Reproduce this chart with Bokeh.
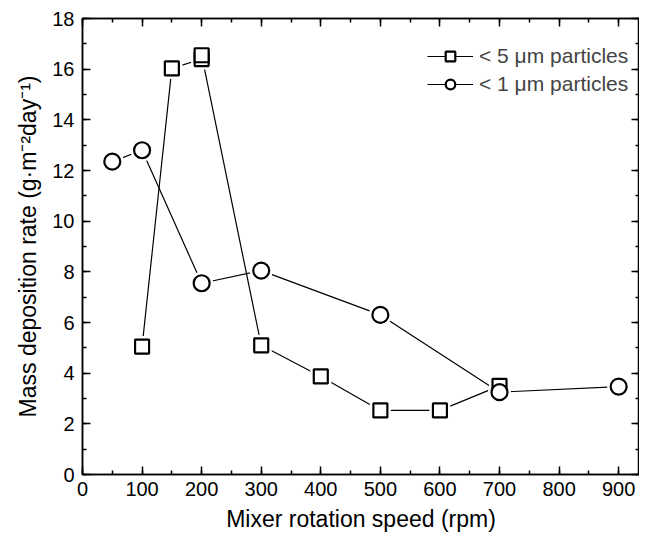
from bokeh.plotting import figure
from bokeh.models import Range1d, LinearAxis, Legend, LegendItem, FixedTicker
from bokeh.embed import file_html
from bokeh.resources import INLINE

x5 = [100, 150, 200, 200, 300, 400, 500, 600, 700]
y5 = [5.05, 16.03, 16.4, 16.55, 5.1, 3.87, 2.53, 2.53, 3.5]
x1 = [50, 100, 200, 300, 500, 700, 900]
y1 = [12.35, 12.8, 7.55, 8.05, 6.3, 3.25, 3.47]
label5 = "< 5 \u03bcm particles"
label1 = "< 1 \u03bcm particles"
xticks = list(range(0, 1000, 100))
xminor = list(range(0, 1000, 50))
yticks = list(range(0, 19, 2))
yminor = list(range(0, 19, 1))

FONT = "Liberation Sans"

p = figure(width=639, height=534, output_backend="svg", toolbar_location=None,
           x_range=Range1d(0, 935), y_range=Range1d(0, 18),
           min_border_left=82, min_border_top=18, min_border_right=0, min_border_bottom=60)
p.xgrid.visible = False
p.ygrid.visible = False
p.outline_line_color = "black"
p.outline_line_width = 1.5

l5 = p.line(x5, y5, line_color="black", line_width=1.2)
l1 = p.line(x1, y1, line_color="black", line_width=1.2)
# white halos to create gaps between lines and markers
p.scatter(x5, y5, marker="square", size=14, fill_color="white", line_color="white", line_width=7)
p.scatter(x1, y1, marker="circle", size=16, fill_color="white", line_color="white", line_width=7)
m5 = p.scatter(x5, y5, marker="square", size=14, fill_color="white", line_color="black", line_width=2.2)
m1 = p.scatter(x1, y1, marker="circle", size=16, fill_color="white", line_color="black", line_width=2.2)

xt = FixedTicker(ticks=xticks, minor_ticks=xminor)
yt = FixedTicker(ticks=yticks, minor_ticks=yminor)

p.xaxis[0].ticker = xt
p.yaxis[0].ticker = yt

def style(ax, labels=True):
    ax.axis_line_color = "black"
    ax.axis_line_width = 1.5
    ax.major_tick_in = 8
    ax.major_tick_out = 0
    ax.minor_tick_in = 4
    ax.minor_tick_out = 0
    ax.major_tick_line_color = "black"
    ax.minor_tick_line_color = "black"
    ax.major_tick_line_width = 1.5
    ax.minor_tick_line_width = 1.5
    ax.major_label_text_font = FONT
    ax.major_label_text_font_size = "20px"
    ax.major_label_text_color = "black"
    ax.axis_label_text_font = FONT
    ax.axis_label_text_font_size = "23px"
    ax.axis_label_text_font_style = "normal"
    ax.axis_label_text_color = "black"
    if not labels:
        ax.major_label_standoff = 0
        ax.axis_label_standoff = 0

style(p.xaxis[0])
style(p.yaxis[0])
p.xaxis[0].axis_label = "Mixer rotation speed (rpm)"
p.yaxis[0].axis_label = "Mass deposition rate (g\u00b7m\u207b\u00b2day\u207b\u00b9)"
p.xaxis[0].major_label_standoff = 7
p.yaxis[0].major_label_standoff = 8
p.xaxis[0].axis_label_standoff = 7
p.yaxis[0].axis_label_standoff = 8

ra = LinearAxis(ticker=yt, major_label_overrides={t: "" for t in yticks})
ta = LinearAxis(ticker=xt, major_label_overrides={t: "" for t in xticks})
style(ra, labels=False)
style(ta, labels=False)
p.add_layout(ra, "right")
p.add_layout(ta, "above")

legend = Legend(items=[LegendItem(label=label5, renderers=[l5, m5]),
                       LegendItem(label=label1, renderers=[l1, m1])],
                location=(335, 368))
legend.border_line_alpha = 0
legend.background_fill_alpha = 0
legend.label_text_font = FONT
legend.label_text_font_size = "21px"
legend.glyph_width = 46
legend.glyph_height = 24
legend.label_height = 24
legend.spacing = 4
legend.padding = 10
legend.margin = 0
legend.label_standoff = 6
p.add_layout(legend)

open("out.html", "w").write(file_html(p, INLINE))
